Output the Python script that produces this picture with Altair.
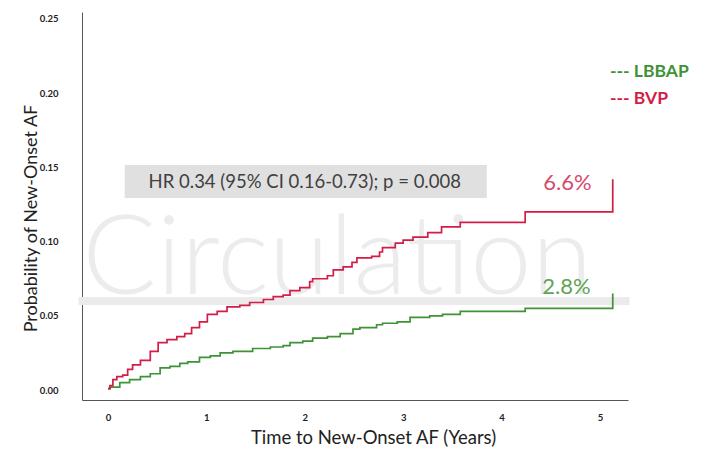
import altair as alt
import pandas as pd

# ---- data ----
groups = ["LBBAP", "BVP"]
colors = ["#3f9236", "#d31d47"]
label_colors = ["#5fa455", "#d64a6c"]

time_bvp = [0.00, 0.02, 0.05, 0.09, 0.15, 0.20, 0.25, 0.33, 0.43, 0.51, 0.60, 0.70,
            0.78, 0.85, 0.93, 1.01, 1.11, 1.21, 1.34, 1.44, 1.58, 1.68, 1.78, 1.85,
            1.95, 2.05, 2.08, 2.23, 2.29, 2.39, 2.48, 2.53, 2.68, 2.76, 2.79, 2.92,
            3.00, 3.10, 3.25, 3.39, 3.58, 4.24, 5.13]
prob_bvp = [0.001, 0.003, 0.007, 0.009, 0.010, 0.014, 0.017, 0.020, 0.026, 0.032, 0.034, 0.036,
            0.038, 0.042, 0.046, 0.051, 0.053, 0.056, 0.057, 0.059, 0.061, 0.063, 0.064, 0.067,
            0.069, 0.073, 0.075, 0.077, 0.081, 0.083, 0.086, 0.089, 0.090, 0.093, 0.096, 0.099,
            0.101, 0.103, 0.106, 0.110, 0.113, 0.120, 0.142]

time_lbbap = [0.00, 0.02, 0.12, 0.22, 0.33, 0.43, 0.53, 0.63, 0.73, 0.81, 0.93, 1.04,
              1.14, 1.27, 1.47, 1.65, 1.78, 1.85, 1.98, 2.08, 2.23, 2.36, 2.49, 2.56,
              2.73, 2.79, 2.94, 3.07, 3.27, 3.40, 3.58, 4.24, 5.13]
prob_lbbap = [0.001, 0.002, 0.005, 0.007, 0.009, 0.011, 0.015, 0.016, 0.018, 0.019, 0.022, 0.023,
              0.025, 0.026, 0.028, 0.029, 0.030, 0.032, 0.033, 0.035, 0.036, 0.038, 0.041, 0.042,
              0.044, 0.045, 0.046, 0.049, 0.050, 0.051, 0.053, 0.055, 0.065]

end_labels = ["2.8%", "6.6%"]
end_label_t = [4.66, 4.67]
end_label_p = [0.0694, 0.1395]

x_ticks = [0, 1, 2, 3, 4, 5]
y_ticks = [0.00, 0.05, 0.10, 0.15, 0.20, 0.25]

hr_text = "HR 0.34 (95% CI 0.16-0.73); p = 0.008"
hr_box = {"t0": 0.17, "t1": 3.85, "p0": 0.1294, "p1": 0.1516, "tc": 2.0, "pc": 0.1402}

watermark = "Circulation"
wm_pos = {"t": 2.33, "p": 0.065}
wm_band = {"t0": -0.3, "t1": 5.3, "p0": 0.0573, "p1": 0.0627}

# ---- tables ----
curves = pd.concat([
    pd.DataFrame({"t": time_lbbap, "p": prob_lbbap, "group": groups[0]}),
    pd.DataFrame({"t": time_bvp, "p": prob_bvp, "group": groups[1]}),
], ignore_index=True)
curves["order"] = range(len(curves))

ends = pd.DataFrame({"t": end_label_t, "p": end_label_p, "label": end_labels, "group": groups})

xscale = alt.Scale(domain=[-0.264, 5.285], nice=False, zero=False)
yscale = alt.Scale(domain=[-0.0067, 0.2547], nice=False, zero=False)
color_scale = alt.Scale(domain=groups, range=colors)
label_scale = alt.Scale(domain=groups, range=label_colors)

FONT = "Lato"

axis_style = dict(grid=False, ticks=False, domainColor="#555555", domainWidth=1,
                  labelFont=FONT, labelFontWeight="bold", labelFontSize=9.5, labelColor="#222222",
                  titleFont=FONT, titleFontWeight="normal", titleColor="#222222",
                  labelOverlap=False)

x_axis = alt.Axis(values=x_ticks, format="d", title="Time to New-Onset AF (Years)",
                  titleX=291, titleY=37, titleBaseline="middle", titleFontSize=18.5,
                  labelPadding=12, **axis_style)
y_axis = alt.Axis(values=y_ticks, format=".2f", title="Probability of New-Onset AF",
                  titleX=-51, titleY=206, titleBaseline="middle", titleFontSize=18,
                  labelPadding=24, **axis_style)

band = alt.Chart(pd.DataFrame([wm_band])).mark_rect(color="#ebebeb").encode(
    x=alt.X("t0:Q", scale=xscale, axis=x_axis), x2="t1:Q",
    y=alt.Y("p0:Q", scale=yscale, axis=y_axis), y2="p1:Q",
)

wm = alt.Chart(pd.DataFrame([{**wm_pos, "txt": watermark}])).mark_text(
    font=FONT, fontWeight=300, fontSize=110, color="#ececec", baseline="alphabetic", align="center"
).encode(
    x=alt.X("t:Q", scale=xscale, axis=x_axis),
    y=alt.Y("p:Q", scale=yscale, axis=y_axis),
    text="txt:N",
)

box = alt.Chart(pd.DataFrame([hr_box])).mark_rect(color="#e0e0e0").encode(
    x=alt.X("t0:Q", scale=xscale, axis=x_axis), x2="t1:Q",
    y=alt.Y("p0:Q", scale=yscale, axis=y_axis), y2="p1:Q",
)

box_text = alt.Chart(pd.DataFrame([{**hr_box, "txt": hr_text}])).mark_text(
    font=FONT, fontSize=18.5, color="#404040", align="center", baseline="middle"
).encode(
    x=alt.X("tc:Q", scale=xscale, axis=x_axis),
    y=alt.Y("pc:Q", scale=yscale, axis=y_axis),
    text="txt:N",
)

lines = alt.Chart(curves).mark_line(interpolate="step-after", strokeWidth=1.7).encode(
    x=alt.X("t:Q", scale=xscale, axis=x_axis),
    y=alt.Y("p:Q", scale=yscale, axis=y_axis),
    color=alt.Color("group:N", scale=color_scale, legend=None),
    order="order:Q",
)

end_text = alt.Chart(ends).mark_text(font=FONT, fontSize=22, align="center", baseline="middle").encode(
    x=alt.X("t:Q", scale=xscale, axis=x_axis),
    y=alt.Y("p:Q", scale=yscale, axis=y_axis),
    text="label:N",
    color=alt.Color("group:N", scale=label_scale, legend=None),
)

legend_layers = []
for i, g in enumerate(groups):
    legend_layers.append(
        alt.Chart(pd.DataFrame({"txt": ["--- " + g]})).mark_text(
            font=FONT, fontWeight="bold", fontSize=17.5, align="left", baseline="middle",
            color=colors[i]
        ).encode(x=alt.value(528), y=alt.value(60 + 27 * i), text="txt:N")
    )

chart = alt.layer(band, wm, box, box_text, lines, end_text, *legend_layers).resolve_scale(
    color="independent"
).properties(
    width=546, height=388,
    background="white",
    autosize=alt.AutoSizeParams(type="none"),
    padding={"left": 74, "top": 4, "right": 62, "bottom": 49},
).configure_view(strokeWidth=0, stroke="transparent")

chart.save("out.html", embed_options={"renderer": "svg", "actions": False})
